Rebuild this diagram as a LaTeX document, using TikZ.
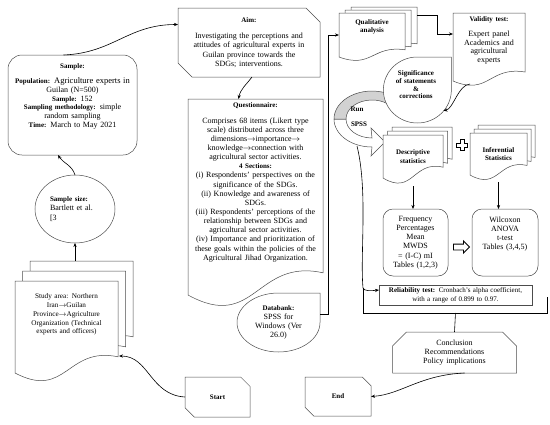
\documentclass[tikz,border=0pt]{standalone}
\usepackage{fontspec}
\setmainfont{Liberation Serif}
\usetikzlibrary{arrows.meta,calc,backgrounds}
\usetikzlibrary{shapes.misc,shapes.arrows,shapes.geometric}

\newcommand{\hd}[1]{{\fontsize{7}{8}\selectfont\bfseries #1}}
% page with a wavy foot: node, wave, x offset, y offset
\newcommand{\pagepath}[4]{($(#1.north west)+(#3,#4)$) -- ($(#1.south west)+(#3,#4)$)
  .. controls ($(#1.south)+(#3,#4+#2)$) and ($(#1.south)+(#3,#4-#2)$) .. ($(#1.south east)+(#3,#4-0.6*#2)$)
  -- ($(#1.north east)+(#3,#4)$) -- cycle}

\tikzset{%
  every node/.style={font=\fontsize{8}{9.2}\selectfont},
  bare/.style={inner sep=0pt, outer sep=0pt, align=center},
  pagebox/.style={bare},
  dropbox/.style={ellipse, bare},
  ovalbox/.style={ellipse, draw=black!70, line width=0.5pt, bare},
  roundbox/.style={rectangle, rounded corners=#1, draw=black!70, line width=0.5pt, bare},
  roundbox/.default=12pt,
  cutbox/.style={chamfered rectangle, chamfered rectangle corners={north east,south west},
    chamfered rectangle sep=7pt, draw=black!70, line width=0.5pt, bare},
  outline/.style={draw=black!70, line width=0.5pt, fill=white},
  wire/.style={draw=black, line width=0.6pt},
  link/.style={wire, -{Stealth[length=4pt,width=3.2pt]}}
}

\begin{document}
\begin{tikzpicture}[x=1pt,y=-1pt]
  \useasboundingbox (0,0) rectangle (550,424);

  % left column
  \node[roundbox=14pt, minimum width=129pt, minimum height=100pt, text width=125pt,
    font=\fontsize{8}{8.8}\selectfont] (sample) at (72.5,105)
    {\hd{Sample:}\\[6pt]
     \hd{Population:} {\fontsize{8.5}{8.8}\selectfont Agriculture experts in}\\ Guilan (N=500)\\
     \hd{Sample:} 152\\ \hd{Sampling methodology:} simple\\ random sampling\\
     \hd{Time:} March to May 2021\\ \rule{0pt}{16pt}};
  \node[ovalbox, minimum width=80pt, minimum height=68pt, text width=50pt, align=left] (ssize) at (75,209)
    {\hd{Sample size:}\\ Bartlett et al.\\ {[}3};
  \node[pagebox, minimum width=103pt, minimum height=92pt, text width=99pt,
    font=\fontsize{7.2}{8.8}\selectfont] (study) at (66.5,327)
    {Study area: Northern\\ Iran$\rightarrow$Guilan\\ Province$\rightarrow$Agriculture\\
     Organization (Technical\\ experts and officers)\\ \rule{0pt}{24pt}};

  % middle column
  \node[cutbox, minimum width=134pt, minimum height=69pt, text width=128pt] (aim) at (249,42.5)
    {\hd{Aim:}\\[7pt] Investigating the perceptions and\\ attitudes of agricultural experts in\\
     Guilan province towards the\\ SDGs; interventions.};
  \node[pagebox, minimum width=135pt, minimum height=196pt, text width=132pt,
    font=\fontsize{8}{9.15}\selectfont] (quest) at (255.5,197)
    {\hd{Questionnaire:}\\[6pt]
     Comprises 68 items (Likert type\\ scale) distributed across three\\
     dimensions$\rightarrow$importance$\rightarrow$\\ knowledge$\rightarrow$connection with\\
     agricultural sector activities.\\ \hd{4 Sections:}\\
     (i) Respondents’ perspectives on the\\ significance of the SDGs.\\
     (ii) Knowledge and awareness of\\ SDGs.\\
     (iii) Respondents’ perceptions of the\\ relationship between SDGs and\\
     agricultural sector activities.\\
     (iv) Importance and prioritization of\\ these goals within the policies of the\\
     Agricultural Jihad Organization.\\ \rule{0pt}{28pt}};
  \node[dropbox, minimum width=83pt, minimum height=59pt, text width=52pt] (databank) at (278.5,322.5)
    {\hd{Databank:}\\ SPSS for\\ Windows (Ver\\ 26.0)};
  \node[cutbox, minimum width=65pt, minimum height=40pt] (start) at (217.5,397) {\hd{Start}};
  \node[cutbox, minimum width=66pt, minimum height=39pt] (finish) at (338,396.5) {\hd{End}};

  % right column
  \node[pagebox, minimum width=66pt, minimum height=44pt, text width=60pt,
    font=\fontsize{7}{8}\selectfont\bfseries] (qual) at (372,35) {Qualitative\\ analysis\\ \rule{0pt}{16pt}};
  \node[pagebox, minimum width=72pt, minimum height=68pt, text width=68pt,
    font=\fontsize{8}{8.8}\selectfont] (valid) at (489,47)
    {\hd{Validity test:}\\[6pt] Expert panel\\ Academics and\\ agricultural\\ experts\\ \rule{0pt}{12pt}};
  \node[dropbox, minimum width=68pt, minimum height=66pt, text width=50pt,
    font=\fontsize{7}{7.7}\selectfont\bfseries] (sig) at (416,90)
    {Significance\\ of statements\\ \&\\ corrections\\ \rule{0pt}{9pt}};
  \node[font=\fontsize{7}{8}\selectfont\bfseries] (run) at (357,109) {Run};
  \node[font=\fontsize{7}{8}\selectfont\bfseries] (spsslbl) at (359,124) {SPSS};
  \node[pagebox, minimum width=60pt, minimum height=43pt, text width=56pt,
    font=\fontsize{7}{8.5}\selectfont\bfseries] (desc) at (413,156.5) {Descriptive\\ statistics};
  \node[pagebox, minimum width=57pt, minimum height=42pt, text width=54pt,
    font=\fontsize{7}{8.5}\selectfont\bfseries] (inf) at (498.5,154) {Inferential\\ Statistics};
  \node[roundbox=10pt, minimum width=65pt, minimum height=67pt, text width=62pt] (freq) at (415.5,242.5)
    {Frequency\\ Percentages\\ Mean\\ MWDS\\ = (I-C) mI\\ Tables (1,2,3)};
  \node[roundbox=10pt, minimum width=66pt, minimum height=67pt, text width=62pt] (wil) at (505,242.5)
    {Wilcoxon\\ ANOVA\\ t-test\\ Tables (3,4,5)\\ \rule{0pt}{16pt}};
  \node[single arrow, draw=black, line width=0.9pt, minimum height=16pt, inner sep=2.5pt,
    single arrow head extend=3pt] (fwd) at (460,247) {};
  \node[bare, draw=black!70, line width=0.5pt, minimum width=153pt, minimum height=20pt, text width=150pt,
    font=\fontsize{7}{9}\selectfont] (rel) at (455.5,295)
    {\textbf{Reliability test:} Cronbach’s alpha coefficient,\\ with a range of 0.899 to 0.97.};
  \node[cutbox, chamfered rectangle corners={north west,north east}, minimum width=119pt,
    minimum height=41pt, text width=110pt] (concl) at (454.5,352.5)
    {Conclusion\\ Recommendations\\ Policy implications};

  % plus sign
  \draw[line width=0.8pt] (462,145) ++(-2,-5.5) -- ++(4,0) -- ++(0,3.5) -- ++(3.5,0) -- ++(0,4)
    -- ++(-3.5,0) -- ++(0,3.5) -- ++(-4,0) -- ++(0,-3.5) -- ++(-3.5,0) -- ++(0,-4) -- ++(3.5,0) -- cycle;

  \begin{scope}[on background layer]
    \draw[outline] \pagepath{study}{27}{15}{-20};
    \draw[outline] \pagepath{study}{27}{7.5}{-10};
    \draw[outline] \pagepath{study}{27}{0}{0};
    \draw[outline] \pagepath{quest}{37}{0}{0};
    \draw[outline] (databank.east |- databank.north) -- (databank.east)
      arc[start angle=0, end angle=-270, x radius=41.5pt, y radius=29.5pt] -- cycle;
    \draw[outline] \pagepath{qual}{12}{12}{-6};
    \draw[outline] \pagepath{qual}{12}{6}{-3};
    \draw[outline] \pagepath{qual}{12}{0}{0};
    \draw[outline] \pagepath{valid}{15}{0}{0};
    % run spss ribbon
    \coordinate (rc) at (372,119);
    \draw[outline] ([shift={(rc)}]180:38pt and 28pt)
      arc[start angle=180, end angle=270, x radius=38pt, y radius=28pt]
      -- (371,156) -- (385,142) -- (371,128) -- (372,138)
      arc[start angle=270, end angle=180, x radius=26pt, y radius=19pt] -- cycle;
    \draw[outline, fill=gray!35] ([shift={(rc)}]65:38pt and 28pt)
      arc[start angle=65, end angle=180, x radius=38pt, y radius=28pt]
      -- ([shift={(rc)}]180:26pt and 19pt)
      arc[start angle=180, end angle=55, x radius=26pt, y radius=19pt] -- cycle;
    \draw[outline] (sig.east |- sig.north) -- (sig.east)
      arc[start angle=0, end angle=-270, x radius=34pt, y radius=33pt] -- cycle;
    \draw[outline] \pagepath{desc}{18}{9}{-8};
    \draw[outline] \pagepath{desc}{18}{4.5}{-4};
    \draw[outline] \pagepath{desc}{18}{0}{0};
    \draw[outline] \pagepath{inf}{16}{8}{-8};
    \draw[outline] \pagepath{inf}{16}{4}{-4};
    \draw[outline] \pagepath{inf}{16}{0}{0};
  \end{scope}

  % connectors
  \draw[link] ([xshift=-9pt]sample.north) .. controls +(50,-2) and +(-50,0) .. ([yshift=18pt]aim.west);
  \draw[link] ([xshift=3pt]aim.south) .. controls +(-6,8) and +(2,-10) .. ([xshift=-17pt]quest.north);
  \draw[link] ([yshift=8pt]databank.east) -- ++(8pt,0pt) |- (qual.west);
  \draw[link] ($(qual.north east)+(12,2)$) -- ++(20pt,0pt) |- ([yshift=13pt]valid.west);
  \draw[link] ($(valid.south west)+(17,3)$) .. controls +(-12,1) and +(10,-2) .. (sig.-37);
  \coordinate (spss) at (357,146);
  \coordinate (fork) at (363,288);
  \coordinate (brR) at (547,313);
  \coordinate (brT) at (547,297);
  \draw[wire] (spss) .. controls (368,190) and (360,255) .. (fork);
  \draw[link] (fork) .. controls (364,291) and (370,291) .. ([yshift=5pt]rel.west);
  \draw[wire] (fork) |- (brR) -- (brT);
  \draw[wire] (rel.south |- brR) -- (concl.north);
  \draw[link] ([yshift=-8pt]desc.south) -- (desc.south |- freq.north);
  \draw[link] ([yshift=-7pt]inf.south) -- (inf.south |- wil.north);
  \draw[link] ([xshift=10pt]concl.south) .. controls +(-45,2) and +(30,-2) .. (finish.east);
  \draw[link] (start.west) .. controls +(-35,-2) and +(30,0) .. ($(study.south east)+(1,-17)$);
  \draw[link] ($(study.north)+(8.5,-20)$) -- (ssize.south);
  \draw[link] (ssize.north) .. controls +(-3,-10) and +(5,8) .. ([xshift=-14.5pt]sample.south);
\end{tikzpicture}
\end{document}
